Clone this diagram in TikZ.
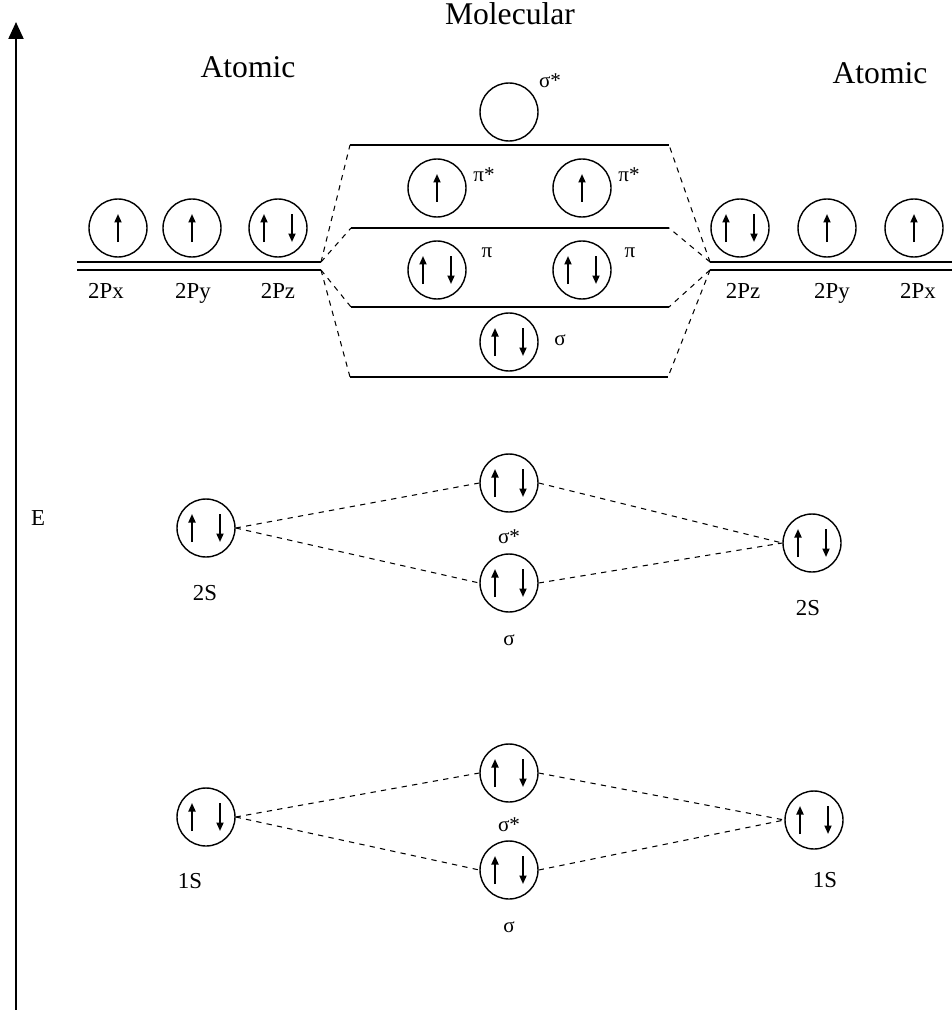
\documentclass[tikz,border=0pt]{standalone}
\usepackage{fontspec}
\setmainfont{Liberation Serif}
\usetikzlibrary{positioning, arrows.meta}
% electron spins drawn inside an orbital circle
\newcommand{\pairspin}[1]{%
  \draw[spin] ([shift={(-14,14)}]#1.center) -- ++(0,-28);
  \draw[spin] ([shift={(14,-14)}]#1.center) -- ++(0,28);}
\newcommand{\onespin}[1]{\draw[spin] ([shift={(0,14)}]#1.center) -- ++(0,-28);}

\begin{document}
\begin{tikzpicture}[x=0.02cm, y=-0.02cm]
\tikzstyle{orb}=[draw, circle, minimum size=1.16cm, inner sep=0pt, line width=0.8pt]
\tikzstyle{spin}=[line width=1pt, -{Triangle[length=0.17cm, width=0.14cm]}]
\tikzstyle{link}=[dashed, line width=0.6pt]
\tikzstyle{level}=[line width=0.6pt]
\tikzstyle{heavy}=[line width=1.4pt]
\tikzstyle{head}=[font=\fontsize{18}{20}\selectfont]
\tikzstyle{lbl}=[font=\fontsize{13}{15}\selectfont, text height=1.6ex, text depth=0.3ex]
\tikzstyle{greek}=[font=\fontsize{12}{14}\selectfont]
\useasboundingbox (0,0) rectangle (952,1010);
% energy axis
\coordinate (axbot) at (16,1010); \coordinate (axtop) at (16,22);
\draw[line width=1.2pt, -{Triangle[length=0.34cm, width=0.3cm]}] (axbot) -- (axtop);
\node[lbl] (E) at (38,520) {E};
% headings
\node[head] (molhead) at (510,14) {Molecular};
\node[head] (lhead) at (248,67) {Atomic};
\node[head] (rhead) at (880,73) {Atomic};
% 2p atomic levels
\coordinate (lend1) at (77,262); \coordinate (ljt) at (321,262);
\coordinate (lend2) at (77,270); \coordinate (ljb) at (321,270);
\coordinate (rjt) at (710,262); \coordinate (rend1) at (952,262);
\coordinate (rjb) at (710,270); \coordinate (rend2) at (952,270);
\draw[level] (lend1) -- (ljt); \draw[heavy] (lend2) -- (ljb);
\draw[level] (rjt) -- (rend1); \draw[heavy] (rjb) -- (rend2);
\node[orb] (l2px) at (118,228) {}; \onespin{l2px}
\node[orb] (l2py) at (192,228) {}; \onespin{l2py}
\node[orb] (l2pz) at (278,228) {}; \pairspin{l2pz}
\node[orb] (r2pz) at (740,228) {}; \pairspin{r2pz}
\node[orb] (r2py) at (827,228) {}; \onespin{r2py}
\node[orb] (r2px) at (914,228) {}; \onespin{r2px}
\node[lbl] (t2pxl) at (106,293) {2Px}; \node[lbl] (t2pyl) at (193,293) {2Py}; \node[lbl] (t2pzl) at (278,293) {2Pz};
\node[lbl] (t2pzr) at (743,293) {2Pz}; \node[lbl] (t2pyr) at (832,293) {2Py}; \node[lbl] (t2pxr) at (918,293) {2Px};
% molecular 2p levels
\coordinate (lvAl) at (350,145); \coordinate (lvAr) at (669,145);
\coordinate (lvBl) at (351,228); \coordinate (lvBr) at (669,228);
\coordinate (lvCl) at (351,307); \coordinate (lvCr) at (669,307);
\coordinate (lvDl) at (350,377); \coordinate (lvDr) at (668,377);
\draw[heavy] (lvAl) -- (lvAr); \draw[level] (lvBl) -- (lvBr);
\draw[level] (lvCl) -- (lvCr); \draw[heavy] (lvDl) -- (lvDr);
\draw[link] (ljt) -- (lvAl); \draw[link] (ljt) -- (lvBl);
\draw[link] (ljb) -- (lvCl); \draw[link] (ljb) -- (lvDl);
\draw[link] (rjt) -- (lvAr); \draw[link] (rjt) -- (lvBr);
\draw[link] (rjb) -- (lvCr); \draw[link] (rjb) -- (lvDr);
\node[orb] (m2psstar) at (509,112) {};
\node[greek] (tm2psstar) at (550,81) {σ*};
\node[orb] (mpistarA) at (437,188) {}; \onespin{mpistarA}
\node[orb] (mpistarB) at (582,188) {}; \onespin{mpistarB}
\node[greek] (tpistarA) at (484,175) {π*}; \node[greek] (tpistarB) at (629,175) {π*};
\node[orb] (mpiA) at (437,270) {}; \pairspin{mpiA}
\node[orb] (mpiB) at (582,270) {}; \pairspin{mpiB}
\node[greek] (tpiA) at (487,253) {π}; \node[greek] (tpiB) at (630,253) {π};
\node[orb] (m2ps) at (509,342) {}; \pairspin{m2ps}
\node[greek] (tm2ps) at (560,340) {σ};
% 2s levels
\node[orb] (l2s) at (206,528) {}; \pairspin{l2s}
\node[orb] (s2sstar) at (509,483) {}; \pairspin{s2sstar}
\node[orb] (s2s) at (509,583) {}; \pairspin{s2s}
\node[orb] (r2s) at (812,543) {}; \pairspin{r2s}
\node[lbl] (tl2s) at (205,595) {2S}; \node[lbl] (tr2s) at (808,610) {2S};
\node[greek] (ts2sstar) at (509,537) {σ*}; \node[greek] (ts2s) at (509,640) {σ};
\draw[link] (l2s.east) -- (s2sstar.west); \draw[link] (l2s.east) -- (s2s.west);
\draw[link] (s2sstar.east) -- (r2s.west); \draw[link] (s2s.east) -- (r2s.west);
% 1s levels
\node[orb] (l1s) at (206,817) {}; \pairspin{l1s}
\node[orb] (s1sstar) at (509,773) {}; \pairspin{s1sstar}
\node[orb] (s1s) at (509,870) {}; \pairspin{s1s}
\node[orb] (r1s) at (814,820) {}; \pairspin{r1s}
\node[lbl] (tl1s) at (190,883) {1S}; \node[lbl] (tr1s) at (825,882) {1S};
\node[greek] (ts1sstar) at (509,825) {σ*}; \node[greek] (ts1s) at (509,927) {σ};
\draw[link] (l1s.east) -- (s1sstar.west); \draw[link] (l1s.east) -- (s1s.west);
\draw[link] (s1sstar.east) -- (r1s.west); \draw[link] (s1s.east) -- (r1s.west);
\end{tikzpicture}
\end{document}
